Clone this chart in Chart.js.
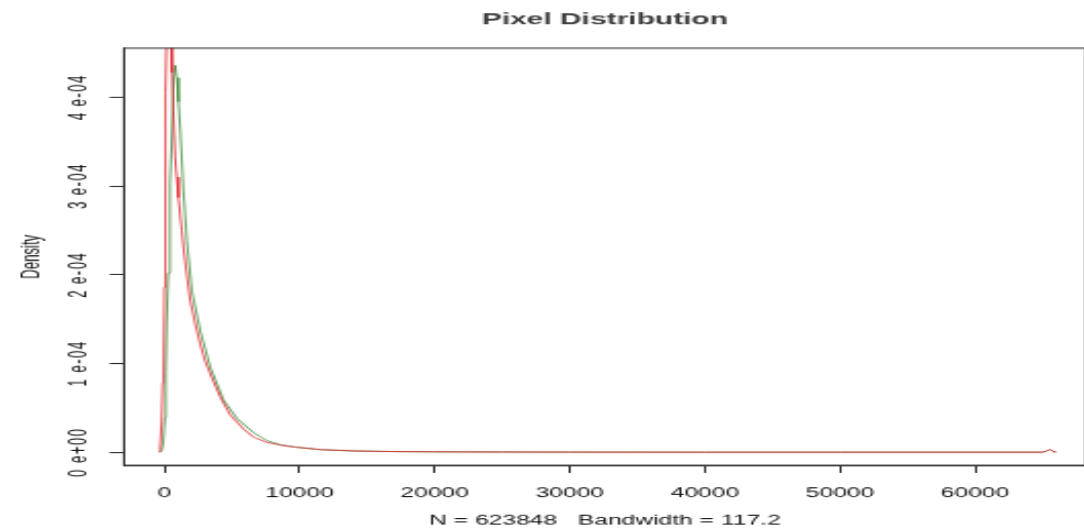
<!DOCTYPE html>
<html>
<head>
<meta charset="utf-8">
<script src="https://cdn.jsdelivr.net/npm/chart.js@4.4.1/dist/chart.umd.min.js"></script>
<style>
html, body { margin: 0; padding: 0; background: #ffffff; overflow: hidden; width: 1084px; height: 529px; }
#wrap { position: absolute; left: 0; top: 0; width: 532px; height: 481px; transform-origin: 0 0; transform: scale(2.05263, 1.09979); }
#c { display: block; }
</style>
</head>
<body>
<div id="wrap"><canvas id="c" width="532" height="481"></canvas></div>
<script>
const chartTitle = "Pixel Distribution";
const xAxisTitle = "N = 623848   Bandwidth = 117.2";
const yAxisTitle = "Density";

const xTickValues = [0, 10000, 20000, 30000, 40000, 50000, 60000];
const yTickValues = [0, 1e-4, 2e-4, 3e-4, 4e-4];
const yTickLabels = ["0 e+00", "1 e-04", "2 e-04", "3 e-04", "4 e-04"];

const redX = [-351, -335, -210, -136, -80, -12, 37, 100, 161, 300, 450, 533, 582, 657, 781, 905, 1028, 1152, 1276, 1400, 1650, 1900, 2270, 2640, 3000, 3507, 4130, 4870, 5860, 6600, 7600, 8590, 9580, 11560, 14000, 17000, 20000, 25000, 30000, 40000, 50000, 60000, 64900, 65200, 65535, 65850, 65886];
const redY = [0, 0.02e-4, 0.36e-4, 0.78e-4, 0.82e-4, 1.86e-4, 3.55e-4, 4.05e-4, 4.75e-4, 4.9e-4, 4.8e-4, 4.7e-4, 4.28e-4, 3.85e-4, 3.33e-4, 3.1e-4, 2.87e-4, 2.68e-4, 2.5e-4, 2.31e-4, 2.0e-4, 1.71e-4, 1.45e-4, 1.22e-4, 1.03e-4, 0.84e-4, 0.62e-4, 0.42e-4, 0.26e-4, 0.17e-4, 0.11e-4, 0.08e-4, 0.06e-4, 0.03e-4, 0.015e-4, 0.008e-4, 0.005e-4, 0.003e-4, 0.002e-4, 0.001e-4, 0.001e-4, 0.001e-4, 0.001e-4, 0.008e-4, 0.032e-4, 0.008e-4, 0];

const greenX = [-351, -210, -100, 37, 100, 161, 285, 409, 533, 657, 781, 905, 1028, 1152, 1400, 1650, 2020, 2640, 3383, 4375, 5368, 6600, 7600, 8590, 9580, 11560, 14000, 17000, 20000, 25000, 30000, 40000, 50000, 60000, 64900, 65200, 65535, 65850, 65886];
const greenY = [0, 0.02e-4, 0.1e-4, 0.39e-4, 0.9e-4, 1.45e-4, 2.02e-4, 3.03e-4, 3.51e-4, 4.19e-4, 4.36e-4, 4.22e-4, 3.95e-4, 3.66e-4, 2.95e-4, 2.39e-4, 1.82e-4, 1.37e-4, 0.96e-4, 0.585e-4, 0.38e-4, 0.22e-4, 0.13e-4, 0.085e-4, 0.06e-4, 0.03e-4, 0.015e-4, 0.008e-4, 0.005e-4, 0.003e-4, 0.002e-4, 0.001e-4, 0.001e-4, 0.001e-4, 0.001e-4, 0.008e-4, 0.03e-4, 0.008e-4, 0];

const toPoints = (xs, ys) => xs.map((x, i) => ({ x: x, y: ys[i] }));

const axisColor = '#2a2a2a';
const fontFamily = "'Liberation Sans', Arial, Helvetica, sans-serif";

const boxPlugin = {
  id: 'plotBox',
  beforeDraw(chart) {
    const yScale = chart.scales.y;
    if (yScale && !yScale._spacedLabels) {
      const original = yScale.drawLabels.bind(yScale);
      yScale.drawLabels = function (area) {
        const ctx = chart.ctx;
        const prev = ctx.letterSpacing;
        ctx.letterSpacing = '1.3px';
        original(area);
        ctx.letterSpacing = prev || '0px';
      };
      yScale._spacedLabels = true;
    }
  },
  afterDraw(chart) {
    const { ctx, chartArea } = chart;
    ctx.save();
    ctx.strokeStyle = axisColor;
    ctx.lineWidth = 1;
    ctx.strokeRect(chartArea.left, chartArea.top, chartArea.right - chartArea.left, chartArea.bottom - chartArea.top);
    ctx.restore();
  }
};

new Chart(document.getElementById('c'), {
  type: 'line',
  data: {
    datasets: [
      {
        label: 'red',
        data: toPoints(redX, redY),
        borderColor: '#e3232c',
        borderWidth: 0.8,
        pointRadius: 0,
        tension: 0,
        fill: false
      },
      {
        label: 'green',
        data: toPoints(greenX, greenY),
        borderColor: '#3f8a3a',
        borderWidth: 0.8,
        pointRadius: 0,
        tension: 0,
        fill: false
      }
    ]
  },
  options: {
    responsive: false,
    devicePixelRatio: 1,
    animation: false,
    layout: { padding: { left: 0, right: 3, top: 0, bottom: 0 } },
    plugins: {
      legend: { display: false },
      tooltip: { enabled: false },
      title: {
        display: true,
        text: chartTitle,
        fullSize: false,
        color: '#3a3a3a',
        font: { family: fontFamily, size: 14.6, weight: 'bold' },
        padding: { top: 9.5, bottom: 16.8 }
      }
    },
    scales: {
      x: {
        type: 'linear',
        min: -3000,
        max: 68200,
        afterBuildTicks: (scale) => { scale.ticks = xTickValues.map(v => ({ value: v })); },
        afterFit: (scale) => { scale.height = 58; },
        grid: { display: true, drawOnChartArea: false, drawTicks: true, tickLength: 7, color: axisColor, lineWidth: 1 },
        border: { display: true, color: axisColor, width: 1 },
        ticks: {
          autoSkip: false,
          maxRotation: 0,
          minRotation: 0,
          padding: 11,
          color: '#111',
          font: { family: fontFamily, size: 12 },
          callback: (value) => String(value)
        },
        title: {
          display: true,
          text: xAxisTitle,
          color: '#111',
          font: { family: fontFamily, size: 12 },
          padding: { top: 11, bottom: 0 }
        }
      },
      y: {
        type: 'linear',
        min: -0.146e-4,
        max: 4.553e-4,
        afterBuildTicks: (scale) => { scale.ticks = yTickValues.map(v => ({ value: v })); },
        afterFit: (scale) => { scale.width = 60.4; },
        grid: { display: true, drawOnChartArea: false, drawTicks: true, tickLength: 7, color: axisColor, lineWidth: 1 },
        border: { display: true, color: axisColor, width: 1 },
        ticks: {
          autoSkip: false,
          minRotation: 90,
          maxRotation: 90,
          crossAlign: 'center',
          padding: -4,
          color: '#111',
          font: { family: fontFamily, size: 12 },
          callback: (value, index) => yTickLabels[index]
        },
        title: {
          display: true,
          text: yAxisTitle,
          color: '#111',
          font: { family: fontFamily, size: 12 },
          padding: { top: 8.8, bottom: 0 }
        }
      }
    }
  },
  plugins: [boxPlugin]
});
</script>
</body>
</html>
